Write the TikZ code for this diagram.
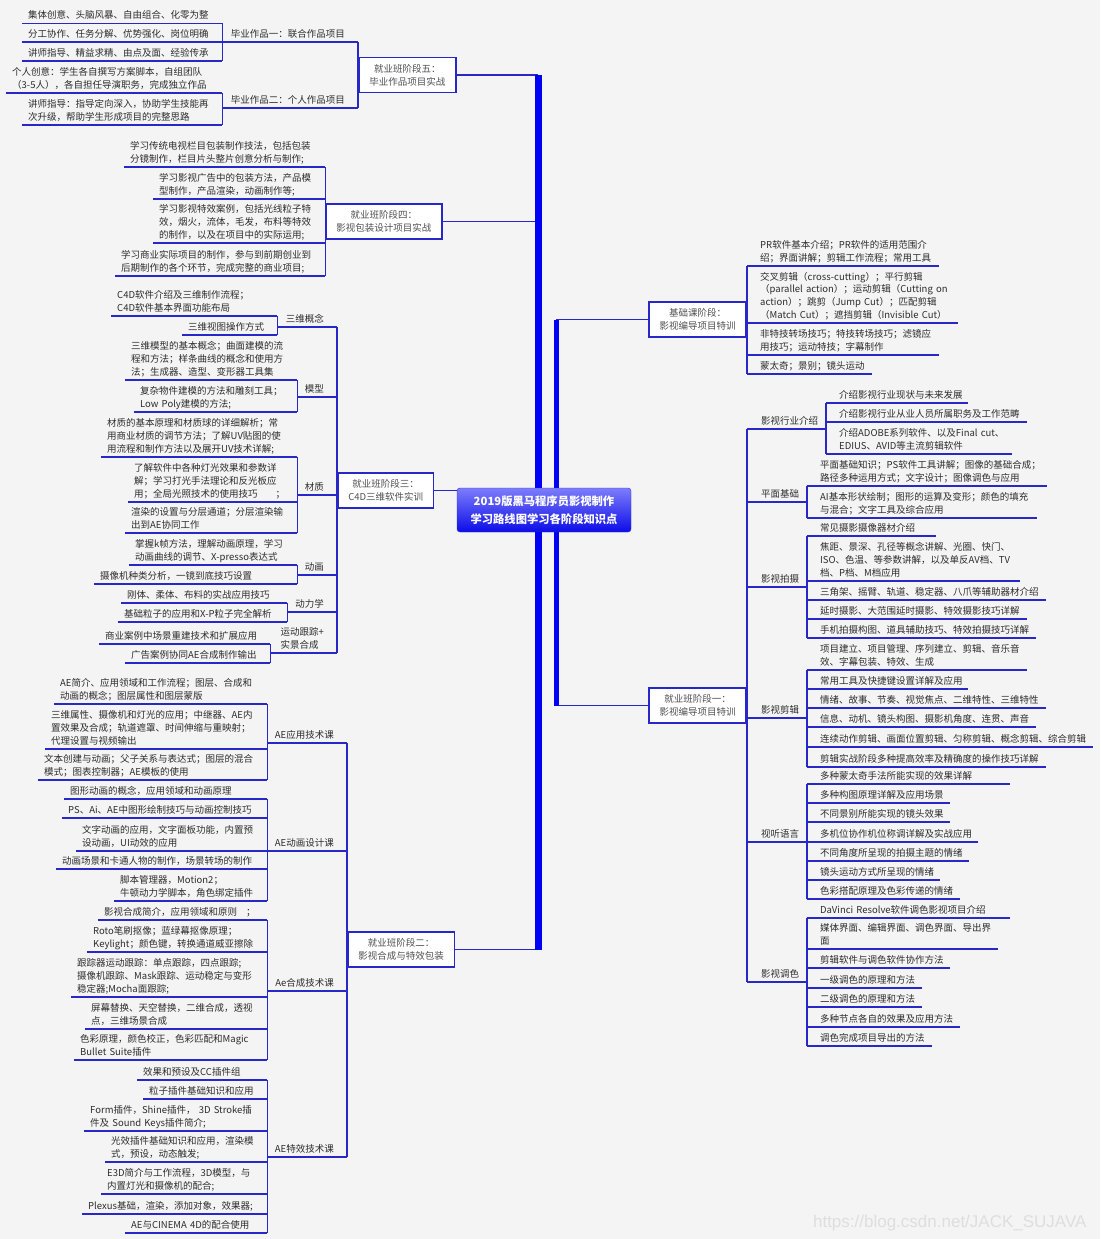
\documentclass[tikz,border=0pt]{standalone}
\usepackage{fontspec}
\newfontfamily\cjk{Noto Sans CJK SC}
\newfontfamily\wmfont{Liberation Sans}
\usepackage{tikz}
\definecolor{lnblue}{RGB}{40,40,200}
\definecolor{trk}{RGB}{0,0,245}
\definecolor{txt}{RGB}{45,45,45}
\definecolor{boxtxt}{RGB}{80,80,80}
\definecolor{bgc}{RGB}{244,244,244}
\tikzset{
  ln/.style={draw=lnblue,line width=1.4pt},
  trunk/.style={draw=trk,line width=7pt},
  leaf/.style={font=\cjk\fontsize{9.5}{12.7}\selectfont,text=txt,align=left,
    anchor=south west,inner xsep=0pt,inner ysep=1.5pt},
  stagebox/.style={draw=lnblue,line width=1.6pt,fill=white,align=center,
    font=\cjk\fontsize{9.5}{13}\selectfont,text=boxtxt,inner xsep=10.5pt,minimum height=35pt},
  root/.style={rounded corners=3pt,draw={rgb,255:red,50;green,50;blue,210},
    top color={rgb,255:red,125;green,125;blue,252},bottom color={rgb,255:red,12;green,12;blue,232},
    text=white,align=center,font=\cjk\bfseries\fontsize{11.3}{18.5}\selectfont,
    minimum width=174pt,minimum height=44pt},
  wmark/.style={font=\wmfont\fontsize{17}{20}\selectfont,text={rgb,255:red,222;green,222;blue,222}}
}
\newcommand\lowstrut{\rule[-3pt]{0pt}{3pt}}
% leaf left of its bracket: name, text left, underline y, bracket x, text
\newcommand\lfl[5]{\node[leaf,text width={(#4)-(#2)}] (#1) at (#2,#3) {#5\lowstrut};
  \draw[ln] ([xshift=-6pt]#1.south west) -- (#1.south east);}
% leaf right of its bracket: name, bracket x, underline y, underline end, text
\newcommand\lfr[5]{\node[leaf,text width={(#4)-(#2)-13}] (#1) at (#2+13,#3) {#5\lowstrut};
  \draw[ln] ([xshift=-13pt]#1.south west) -- (#1.south east);}
\newcommand\labl[4]{\node[leaf,anchor=south east] (#1) at (#2-13,#3) {#4\lowstrut};}
\newcommand\labr[4]{\node[leaf] (#1) at (#2+14,#3) {#4\lowstrut};}

\begin{document}
\begin{tikzpicture}[x=1pt,y=-1pt]
\fill[bgc] (0,0) rectangle (1100,1239);
\useasboundingbox (0,0) rectangle (1100,1239);

% stage five
\node[stagebox,anchor=west] (s5) at (358,75) {就业班阶段五：\\毕业作品项目实战};
\labl{g51}{358}{42}{毕业作品一：联合作品项目}
\lfl{a511}{28}{23.3}{222}{集体创意、头脑风暴、自由组合、化零为整}
\lfl{a512}{28}{42}{222}{分工协作、任务分解、优势强化、岗位明确}
\lfl{a513}{28}{61}{222}{讲师指导、精益求精、由点及面、经验传承}
\draw[ln] (a511.south east) -- (a513.south east);
\draw[ln] (g51.south -| a511.south east) -- (g51.south -| s5.west);
\labl{g52}{358}{108}{毕业作品二：个人作品项目}
\lfl{a521}{12}{93}{222}{个人创意：学生各自撰写方案脚本，自组团队\\（3-5人），各自担任导演职务，完成独立作品}
\lfl{a522}{28}{125}{222}{讲师指导：指导定向深入，协助学生技能再\\次升级，帮助学生形成项目的完整思路}
\draw[ln] (a521.south east) -- (a522.south east);
\draw[ln] (g52.south -| a521.south east) -- (g52.south -| s5.west);
\draw[ln] (g51.south -| s5.west) -- (g52.south -| s5.west);

% stage four
\node[stagebox,anchor=west] (s4) at (325,221.5) {就业班阶段四：\\影视包装设计项目实战};
\lfl{a41}{130}{167}{325}{学习传统电视栏目包装制作技法，包括包装\\分镜制作，栏目片头整片创意分析与制作;}
\lfl{a42}{159}{199}{325}{学习影视广告中的包装方法，产品模\\型制作，产品渲染，动画制作等;}
\lfl{a43}{159}{243}{325}{学习影视特效案例，包括光线粒子特\\效，烟火，流体，毛发，布料等特效\\的制作，以及在项目中的实际运用;}
\lfl{a44}{121}{276}{325}{学习商业实际项目的制作，参与到前期创业到\\后期制作的各个环节，完成完整的商业项目;}
\draw[ln] (a41.south east) -- (a44.south east);

% stage three
\node[stagebox,anchor=west] (s3) at (337,490.5) {就业班阶段三：\\C4D三维软件实训};
\labl{g31}{337}{327}{三维概念}
\lfl{a311}{117}{316}{277}{C4D软件介绍及三维制作流程；\\C4D软件基本界面功能布局}
\lfl{a312}{188}{335}{277}{三维视图操作方式}
\draw[ln] (a311.south east) -- (a312.south east);
\draw[ln] (g31.south -| a311.south east) -- (g31.south -| s3.west);
\labl{g32}{337}{397}{模型}
\lfl{a321}{131}{380}{297}{三维模型的基本概念；曲面建模的流\\程和方法；样条曲线的概念和使用方\\法；生成器、造型、变形器工具集}
\lfl{a322}{140}{412}{297}{复杂物件建模的方法和雕刻工具；\\Low~Poly建模的方法;}
\draw[ln] (a321.south east) -- (a322.south east);
\draw[ln] (g32.south -| a321.south east) -- (g32.south -| s3.west);
\labl{g33}{337}{495}{材质}
\lfl{a331}{107}{457}{297}{材质的基本原理和材质球的详细解析；常\\用商业材质的调节方法；了解UV贴图的使\\用流程和制作方法以及展开UV技术详解;}
\lfl{a332}{134}{502}{297}{了解软件中各种灯光效果和参数详\\解；学习打光手法理论和反光板应\\用；全局光照技术的使用技巧\hspace{18pt}；}
\lfl{a333}{131}{533}{297}{渲染的设置与分层通道；分层渲染输\\出到AE协同工作}
\draw[ln] (a331.south east) -- (a333.south east);
\draw[ln] (g33.south -| a331.south east) -- (g33.south -| s3.west);
\labl{g34}{337}{575}{动画}
\lfl{a341}{135}{565}{297}{掌握k帧方法，理解动画原理，学习\\动画曲线的调节、X-presso表达式}
\lfl{a342}{100}{584}{297}{摄像机种类分析，一镜到底技巧设置}
\draw[ln] (a341.south east) -- (a342.south east);
\draw[ln] (g34.south -| a341.south east) -- (g34.south -| s3.west);
\labl{g35}{337}{612}{动力学}
\lfl{a351}{127}{603}{287}{刚体、柔体、布料的实战应用技巧}
\lfl{a352}{124}{622}{287}{基础粒子的应用和X-P粒子完全解析}
\draw[ln] (a351.south east) -- (a352.south east);
\draw[ln] (g35.south -| a351.south east) -- (g35.south -| s3.west);
\labl{g36}{337}{653}{运动跟踪+\\实景合成}
\lfl{a361}{105}{644}{270}{商业案例中场景重建技术和扩展应用}
\lfl{a362}{131}{663}{270}{广告案例协同AE合成制作输出}
\draw[ln] (a361.south east) -- (a362.south east);
\draw[ln] (g36.south -| a361.south east) -- (g36.south -| s3.west);
\draw[ln] (g31.south -| s3.west) -- (g36.south -| s3.west);

% stage two
\node[stagebox,anchor=west] (s2) at (347,949.5) {就业班阶段二：\\影视合成与特效包装};
\labl{g21}{347}{743}{AE应用技术课}
\lfl{a211}{60}{704}{267}{AE简介、应用领域和工作流程；图层、合成和\\动画的概念；图层属性和图层蒙版}
\lfl{a212}{51}{749}{267}{三维属性、摄像机和灯光的应用；中继器、AE内\\置效果及合成；轨道遮罩、时间伸缩与重映射；\\代理设置与视频输出}
\lfl{a213}{44}{780}{267}{文本创建与动画；父子关系与表达式；图层的混合\\模式；图表控制器；AE模板的使用}
\draw[ln] (a211.south east) -- (a213.south east);
\draw[ln] (g21.south -| a211.south east) -- (g21.south -| s2.west);
\labl{g22}{347}{851}{AE动画设计课}
\lfl{a221}{70}{799}{267}{图形动画的概念，应用领域和动画原理}
\lfl{a222}{68}{818}{267}{PS、Ai、AE中图形绘制技巧与动画控制技巧}
\lfl{a223}{82}{851}{267}{文字动画的应用，文字面板功能，内置预\\设动画，UI动效的应用}
\lfl{a224}{62}{869}{267}{动画场景和卡通人物的制作，场景转场的制作}
\lfl{a225}{120}{901}{267}{脚本管理器，Motion2；\\牛顿动力学脚本，角色绑定插件}
\draw[ln] (a221.south east) -- (a225.south east);
\draw[ln] (g22.south -| a221.south east) -- (g22.south -| s2.west);
\labl{g23}{347}{991}{Ae合成技术课}
\lfl{a231}{104}{920}{267}{影视合成简介，应用领域和原则\hspace{9pt}；}
\lfl{a232}{93}{952}{267}{Roto笔刷抠像；蓝绿幕抠像原理；\\Keylight；颜色键，转换通道威亚擦除}
\lfl{a233}{77}{997}{267}{跟踪器运动跟踪：单点跟踪，四点跟踪;\\摄像机跟踪、Mask跟踪、运动稳定与变形\\稳定器;Mocha面跟踪;}
\lfl{a234}{91}{1029}{267}{屏幕替换、天空替换，二维合成，透视\\点，三维场景合成}
\lfl{a235}{80}{1060}{267}{色彩原理，颜色校正，色彩匹配和Magic\\Bullet~Suite插件}
\draw[ln] (a231.south east) -- (a235.south east);
\draw[ln] (g23.south -| a231.south east) -- (g23.south -| s2.west);
\labl{g24}{347}{1157}{AE特效技术课}
\lfl{a241}{143}{1080}{267}{效果和预设及CC插件组}
\lfl{a242}{149}{1099}{267}{粒子插件基础知识和应用}
\lfl{a243}{90}{1131}{267}{Form插件，Shine插件，~3D~Stroke插\\件及~Sound~Keys插件简介;}
\lfl{a244}{111}{1162}{267}{光效插件基础知识和应用，渲染模\\式，预设，动态触发;}
\lfl{a245}{107}{1194}{267}{E3D简介与工作流程，3D模型，与\\内置灯光和摄像机的配合;}
\lfl{a246}{88}{1214}{267}{Plexus基础，渲染，添加对象，效果器;}
\lfl{a247}{131}{1233}{267}{AE与CINEMA~4D的配合使用}
\draw[ln] (a241.south east) -- (a247.south east);
\draw[ln] (g24.south -| a241.south east) -- (g24.south -| s2.west);
\draw[ln] (g21.south -| s2.west) -- (g24.south -| s2.west);

% basic stage
\node[stagebox,anchor=east] (b0) at (747,319.5) {基础课阶段：\\影视编导项目特训};
\lfr{p1}{747}{266}{939}{PR软件基本介绍；PR软件的适用范围介\\绍；界面讲解；剪辑工作流程；常用工具}
\lfr{p2}{747}{323}{958}{交叉剪辑（cross-cutting）；平行剪辑\\（parallel~action）；运动剪辑（Cutting~on\\action）；跳剪（Jump~Cut）；匹配剪辑\\（Match~Cut）；遮挡剪辑（Invisible~Cut）}
\lfr{p3}{747}{355}{939}{非特技转场技巧；特技转场技巧；滤镜应\\用技巧；运动特技；字幕制作}
\lfr{p4}{747}{374}{872}{蒙太奇；景别；镜头运动}
\draw[ln] (p1.south -| b0.east) -- (p4.south -| b0.east);

% stage one
\node[stagebox,anchor=east] (s1) at (747,705.5) {就业班阶段一：\\影视编导项目特训};
\coordinate (kc) at (826,0);
\coordinate (kd) at (807,0);
\labr{h1}{747}{429}{影视行业介绍}
\lfr{r11}{826}{403}{968}{介绍影视行业现状与未来发展}
\lfr{r12}{826}{422}{1027}{介绍影视行业从业人员所属职务及工作范畴}
\lfr{r13}{826}{454}{1012}{介绍ADOBE系列软件、以及Final~cut、\\EDIUS、AVID等主流剪辑软件}
\draw[ln] (r11.south -| kc) -- (r13.south -| kc);
\draw[ln] (h1.south -| s1.east) -- (h1.south -| kc);
\labr{h2}{747}{502}{平面基础}
\lfr{r21}{807}{486}{1047}{平面基础知识；PS软件工具讲解；图像的基础合成；\\路径多种运用方式；文字设计；图像调色与应用}
\lfr{r22}{807}{518}{1037}{AI基本形状绘制；图形的运算及变形；颜色的填充\\与混合；文字工具及综合应用}
\draw[ln] (r21.south -| kd) -- (r22.south -| kd);
\draw[ln] (h2.south -| s1.east) -- (h2.south -| kd);
\labr{h3}{747}{587}{影视拍摄}
\lfr{r31}{807}{536}{936}{常见摄影摄像器材介绍}
\lfr{r32}{807}{581}{1020}{焦距、景深、孔径等概念讲解、光圈、快门、\\ISO、色温、等参数讲解，以及单反AV档、TV\\档、P档、M档应用}
\lfr{r33}{807}{600}{1046}{三角架、摇臂、轨道、稳定器、八爪等辅助器材介绍}
\lfr{r34}{807}{619}{1027}{延时摄影、大范围延时摄影、特效摄影技巧详解}
\lfr{r35}{807}{638}{1036}{手机拍摄构图、道具辅助技巧、特效拍摄技巧详解}
\draw[ln] (r31.south -| kd) -- (r35.south -| kd);
\draw[ln] (h3.south -| s1.east) -- (h3.south -| kd);
\labr{h4}{747}{718}{影视剪辑}
\lfr{r41}{807}{670}{1027}{项目建立、项目管理、序列建立、剪辑、音乐音\\效、字幕包装、特效、生成}
\lfr{r42}{807}{689}{968}{常用工具及快捷键设置详解及应用}
\lfr{r43}{807}{708}{1046}{情绪、故事、节奏、视觉焦点、二维特性、三维特性}
\lfr{r44}{807}{727}{1036}{信息、动机、镜头构图、摄影机角度、连贯、声音}
\lfr{r45}{807}{747}{1093}{连续动作剪辑、画面位置剪辑、匀称剪辑、概念剪辑、综合剪辑}
\lfr{r46}{807}{767}{1046}{剪辑实战阶段多种提高效率及精确度的操作技巧详解}
\draw[ln] (r41.south -| kd) -- (r46.south -| kd);
\draw[ln] (h4.south -| s1.east) -- (h4.south -| kd);
\labr{h5}{747}{842}{视听语言}
\lfr{r51}{807}{784}{1010}{多种蒙太奇手法所能实现的效果详解}
\lfr{r52}{807}{803}{950}{多种构图原理详解及应用场景}
\lfr{r53}{807}{822}{950}{不同景别所能实现的镜头效果}
\lfr{r54}{807}{842}{978}{多机位协作机位称调详解及实战应用}
\lfr{r55}{807}{861}{969}{不同角度所呈现的拍摄主题的情绪}
\lfr{r56}{807}{880}{940}{镜头运动方式所呈现的情绪}
\lfr{r57}{807}{899}{960}{色彩搭配原理及色彩传递的情绪}
\draw[ln] (r51.south -| kd) -- (r57.south -| kd);
\draw[ln] (h5.south -| s1.east) -- (h5.south -| kd);
\labr{h6}{747}{982}{影视调色}
\lfr{r61}{807}{918}{1010}{DaVinci~Resolve软件调色影视项目介绍}
\lfr{r62}{807}{949}{998}{媒体界面、编辑界面、调色界面、导出界\\面}
\lfr{r63}{807}{968}{950}{剪辑软件与调色软件协作方法}
\lfr{r64}{807}{988}{922}{一级调色的原理和方法}
\lfr{r65}{807}{1007}{922}{二级调色的原理和方法}
\lfr{r66}{807}{1027}{960}{多种节点各自的效果及应用方法}
\lfr{r67}{807}{1046}{932}{调色完成项目导出的方法}
\draw[ln] (r61.south -| kd) -- (r67.south -| kd);
\draw[ln] (h6.south -| s1.east) -- (h6.south -| kd);
\draw[ln] (h1.south -| s1.east) -- (h6.south -| s1.east);

% trunks and root
\coordinate (tl) at (538,0);
\coordinate (tr) at (556,0);
\draw[ln] (s5.east) -- (s5.east -| tl);
\draw[ln] (s4.east) -- (s4.east -| tl);
\draw[ln] (s2.east) -- (s2.east -| tl);
\draw[ln] (b0.west) -- (b0.west -| tr);
\draw[ln] (s1.west) -- (s1.west -| tr);
\draw[trunk] (s5.east -| tl) -- (s2.east -| tl);
\draw[trunk,line width=5pt] (b0.west -| tr) -- (s1.west -| tr);
\node[root] (c) at (544,510) {2019版黑马程序员影视制作\\学习路线图学习各阶段知识点};
\draw[ln] (s3.east) -- (s3.east -| c.west);

\node[wmark,anchor=base east] (wm) at (1090,1227) {https://blog.csdn.net/JACK\_SUJAVA};
\end{tikzpicture}
\end{document}
